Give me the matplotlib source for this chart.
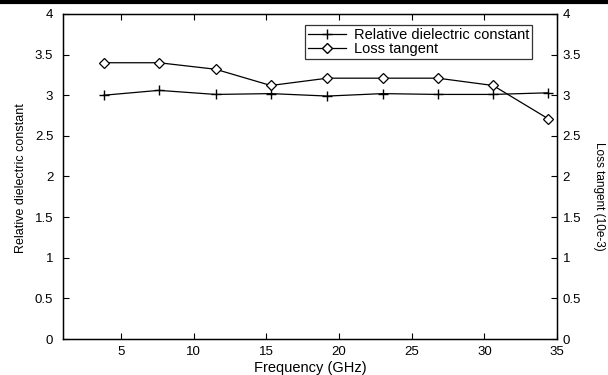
import matplotlib.pyplot as plt
from matplotlib.lines import Line2D

plt.rcParams['font.family'] = ['Liberation Sans', 'DejaVu Sans']

# data
freq = [3.8, 7.6, 11.5, 15.3, 19.2, 23.0, 26.8, 30.6, 34.4]
eps_r = [3.0, 3.06, 3.01, 3.02, 2.99, 3.02, 3.01, 3.01, 3.03]
loss_tan = [3.4, 3.4, 3.32, 3.12, 3.21, 3.21, 3.21, 3.12, 2.71]

xticks = [5, 10, 15, 20, 25, 30, 35]
yticks = [0, 0.5, 1, 1.5, 2, 2.5, 3, 3.5, 4]
yticklabels = ['0', '0.5', '1', '1.5', '2', '2.5', '3', '3.5', '4']

fig = plt.figure(figsize=(6.08, 3.75), dpi=100)
# axes box: x 63..557 px, y 14..339 px
ax = fig.add_axes([0.1036, 0.096, 0.8125, 0.8667])

ax.plot(freq, eps_r, color='black', lw=0.9, marker='+', ms=7, mew=1.0)
ax.set_xlim(1, 35)
ax.set_ylim(0, 4)
ax.set_xticks(xticks)
ax.set_yticks(yticks)
ax.set_yticklabels(yticklabels)
ax.tick_params(direction='in', length=4, labelsize=9.5, top=True, width=0.8)
ax.tick_params(axis='x', pad=5)
ax.tick_params(axis='y', pad=7)
ax.set_xlabel('Frequency (GHz)', fontsize=10.5, labelpad=2)
ax.set_ylabel('Relative dielectric constant', fontsize=9)
ax.yaxis.set_label_coords(-0.073, 0.495)
for s in ax.spines.values():
    s.set_linewidth(1.0)

ax2 = ax.twinx()
ax2.plot(freq, loss_tan, color='black', lw=0.9, marker='D', ms=5,
         mfc='white', mec='black', mew=0.9)
ax2.set_ylim(0, 4)
ax2.set_yticks(yticks)
ax2.set_yticklabels(yticklabels)
ax2.tick_params(direction='in', length=4, labelsize=9.5, width=0.8, pad=4)
ax2.set_ylabel('Loss tangent (10e-3)', fontsize=8.5, rotation=270, va='bottom')
ax2.yaxis.set_label_coords(1.073, 0.44)

handles = [Line2D([], [], color='black', lw=0.9, marker='+', ms=7),
           Line2D([], [], color='black', lw=0.9, marker='D', ms=5, mfc='white')]
leg = ax2.legend(handles, ['Relative dielectric constant', 'Loss tangent'],
                 loc='upper right', bbox_to_anchor=(0.949, 0.966), fontsize=10.5,
                 frameon=True, fancybox=False, edgecolor='black',
                 borderpad=0.2, labelspacing=0.0, handlelength=2.6,
                 handletextpad=0.5, borderaxespad=0)
leg.get_frame().set_linewidth(0.9)

# dark border strip at the top of the scan
fig.add_artist(Line2D([0, 1], [0.995, 0.995], color='black', lw=3,
                      transform=fig.transFigure))

fig.savefig('out.png', dpi=100)
